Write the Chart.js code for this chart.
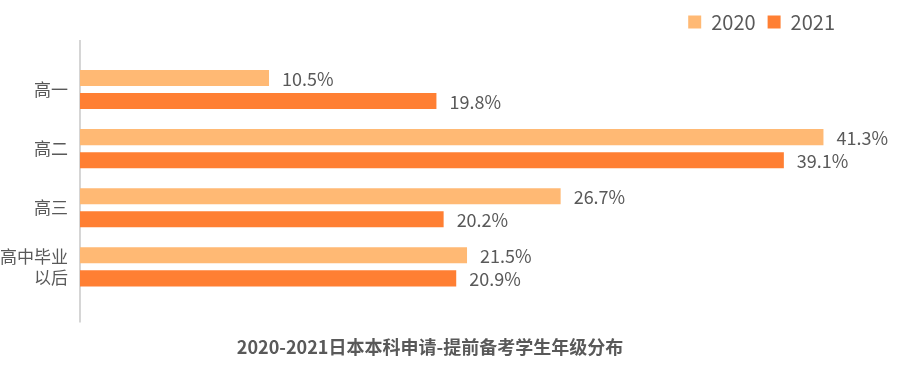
<!DOCTYPE html>
<html>
<head>
<meta charset="utf-8">
<script src="https://cdn.jsdelivr.net/npm/chart.js@4.4.0/dist/chart.umd.min.js"></script>
<style>
  html, body { margin: 0; padding: 0; background: #fff; }
  #wrap { width: 906px; height: 370px; }
</style>
</head>
<body>
<div id="wrap"><canvas id="chart"></canvas></div>
<script>
var categories = ["高一", "高二", "高三", ["高中毕业", "以后"]];
var series2020 = [10.5, 41.3, 26.7, 21.5];
var series2021 = [19.8, 39.1, 20.2, 20.9];
var seriesNames = ["2020", "2021"];
var chartTitle = "2020-2021日本本科申请-提前备考学生年级分布";

var textColor = "#595959";
var fontFamily = "'Noto Sans CJK SC', 'Noto Sans', sans-serif";

// percent labels at the end of each bar
var valueLabels = {
    id: "valueLabels",
    afterDatasetsDraw: function(chart)
    {
        var ctx = chart.ctx;
        ctx.save();
        ctx.font = "18px " + fontFamily;
        ctx.fillStyle = textColor;
        ctx.textAlign = "left";
        ctx.textBaseline = "middle";
        chart.data.datasets.forEach(function(ds, i)
        {
            chart.getDatasetMeta(i).data.forEach(function(bar, j)
            {
                ctx.fillText(ds.data[j].toFixed(1) + "%", bar.x + 13, bar.y + 1);
            });
        });
        ctx.restore();
    }
};

// the vertical axis line runs a bit past the plot area
var axisLine = {
    id: "axisLine",
    beforeDatasetsDraw: function(chart)
    {
        var a = chart.chartArea;
        var ctx = chart.ctx;
        ctx.save();
        ctx.strokeStyle = "#c8c8c8";
        ctx.lineWidth = 1.5;
        ctx.beginPath();
        ctx.moveTo(a.left, a.top - 20);
        ctx.lineTo(a.left, a.bottom + 26);
        ctx.stroke();
        ctx.restore();
    }
};

// push the legend a little left and leave more room under it
var legendSpace = {
    id: "legendSpace",
    beforeInit: function(chart)
    {
        var legend = chart.legend;
        var fit = legend.fit;
        legend.fit = function()
        {
            fit.call(this);
            this.height += 18;
            if (this.lineWidths) this.lineWidths[0] += 13;
        };
    }
};

var chart = new Chart(document.getElementById("chart"), {
    type: "bar",
    data: {
        labels: categories,
        datasets: [
            {label: seriesNames[0], data: series2020, backgroundColor: "#ffb974"},
            {label: seriesNames[1], data: series2021, backgroundColor: "#ff7f33"}
        ]
    },
    options: {
        indexAxis: "y",
        responsive: true,
        maintainAspectRatio: false,
        animation: false,
        categoryPercentage: 0.78,
        barPercentage: 0.696,
        layout: { padding: { left: 0, right: 46, top: 0, bottom: 4 } },
        scales: {
            x: {
                min: 0,
                max: 43.33,
                display: false
            },
            y: {
                grid: { display: false, drawTicks: false },
                border: { display: false },
                ticks: {
                    color: textColor,
                    padding: 12,
                    font: { size: 17, family: fontFamily }
                },
                afterFit: function(scale) { scale.width -= 12; }
            }
        },
        plugins: {
            legend: {
                position: "top",
                align: "end",
                labels: {
                    color: textColor,
                    boxWidth: 13,
                    boxHeight: 13,
                    padding: 12,
                    font: { size: 20, family: fontFamily }
                }
            },
            title: {
                display: true,
                position: "bottom",
                text: chartTitle,
                color: textColor,
                padding: { top: 40, bottom: 8 },
                font: { size: 18, weight: "bold", family: fontFamily }
            },
            tooltip: { enabled: false }
        }
    },
    plugins: [legendSpace, axisLine, valueLabels]
});
</script>
</body>
</html>
